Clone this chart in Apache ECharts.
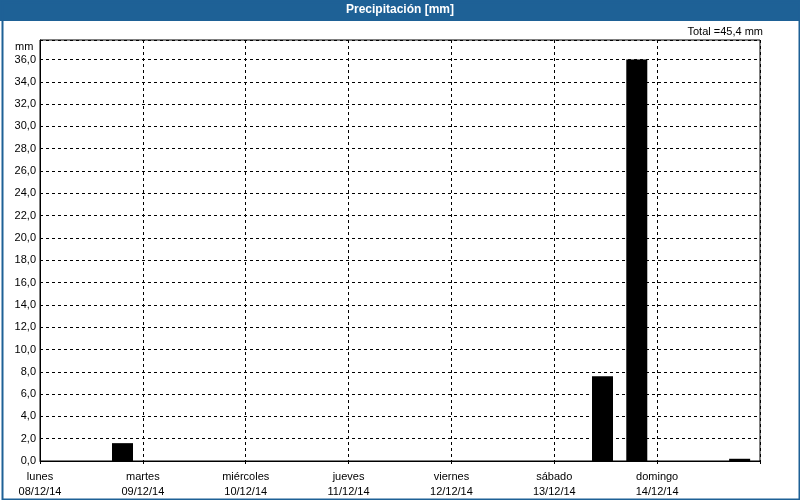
<!DOCTYPE html>
<html>
<head>
<meta charset="utf-8">
<script src="https://cdn.jsdelivr.net/npm/echarts@6/dist/echarts.min.js"></script>
<style>
html,body{margin:0;padding:0;background:#fff;}
#chart{width:800px;height:500px;}
</style>
</head>
<body>
<div id="chart"></div>
<script>
// Data
const dayNames = ['lunes', 'martes', 'miércoles', 'jueves', 'viernes', 'sábado', 'domingo'];
const dayDates = ['08/12/14', '09/12/14', '10/12/14', '11/12/14', '12/12/14', '13/12/14', '14/12/14'];
const hoursFromStart = [19.25, 131.25, 139.25, 163.25]; // hours since 08/12/14 00:00
const precipValues = [1.6, 7.6, 36.0, 0.2];             // mm
const totalText = 'Total =45,4 mm';
const chartTitle = 'Precipitación [mm]';
const yUnit = 'mm';

const FONT = '"Liberation Sans", Arial, sans-serif';
const chart = echarts.init(document.getElementById('chart'), null, {renderer: 'canvas'});

const option = {
  animation: false,
  backgroundColor: '#ffffff',
  textStyle: {fontFamily: FONT},
  graphic: [
    {type: 'rect', left: 0, top: 0, z: -10, shape: {width: 800, height: 21}, style: {fill: '#1e6196'}},
    {type: 'rect', left: 0, top: 0, z: -10, shape: {x: 1, y: 1, width: 797, height: 497}, style: {fill: 'none', stroke: '#1e6196', lineWidth: 2}},
    {type: 'text', left: 15, top: 41, style: {text: yUnit, font: '11px ' + FONT, fill: '#000'}}
  ],
  title: [
    {text: chartTitle, left: 'center', top: 4, padding: 0, textStyle: {color: '#ffffff', fontWeight: 'bold', fontSize: 12, fontFamily: FONT}},
    {text: totalText, right: 37, top: 26, padding: 0, textStyle: {color: '#000', fontWeight: 'normal', fontSize: 11, fontFamily: FONT}}
  ],
  grid: {left: 40, right: 40, top: 40, bottom: 39, show: true, borderColor: '#000', borderWidth: 1, backgroundColor: 'transparent'},
  xAxis: {
    type: 'value',
    min: 0, max: 168, interval: 24,
    axisLine: {show: true, lineStyle: {color: '#000', width: 1}},
    axisTick: {show: true, length: 5, lineStyle: {color: '#000', type: [3, 3]}},
    splitLine: {show: true, lineStyle: {color: '#000', type: [3, 3], width: 1}},
    axisLabel: {
      color: '#000', fontSize: 11, fontFamily: FONT, lineHeight: 15, margin: 8,
      showMaxLabel: true, showMinLabel: true,
      formatter: function (v) {
        const i = Math.round(v / 24);
        if (i < 0 || i >= dayNames.length) return '';
        return dayNames[i] + '\n' + dayDates[i];
      }
    }
  },
  yAxis: {
    type: 'value',
    min: 0, max: 37.75, interval: 2,
    axisLine: {show: true, lineStyle: {color: '#000', width: 1}},
    axisTick: {show: false},
    splitLine: {show: true, lineStyle: {color: '#000', type: [3, 3], width: 1}},
    axisLabel: {
      color: '#000', fontSize: 11, fontFamily: FONT, margin: 4, showMaxLabel: false,
      formatter: function (v) {
        if (Math.abs(v / 2 - Math.round(v / 2)) > 1e-6) return '';
        return v.toFixed(1).replace('.', ',');
      }
    }
  },
  series: [{
    type: 'bar',
    data: hoursFromStart.map((h, i) => [h, precipValues[i]]),
    barWidth: 21,
    itemStyle: {color: '#000'},
    z: 3
  }]
};
chart.setOption(option);
</script>
</body>
</html>
